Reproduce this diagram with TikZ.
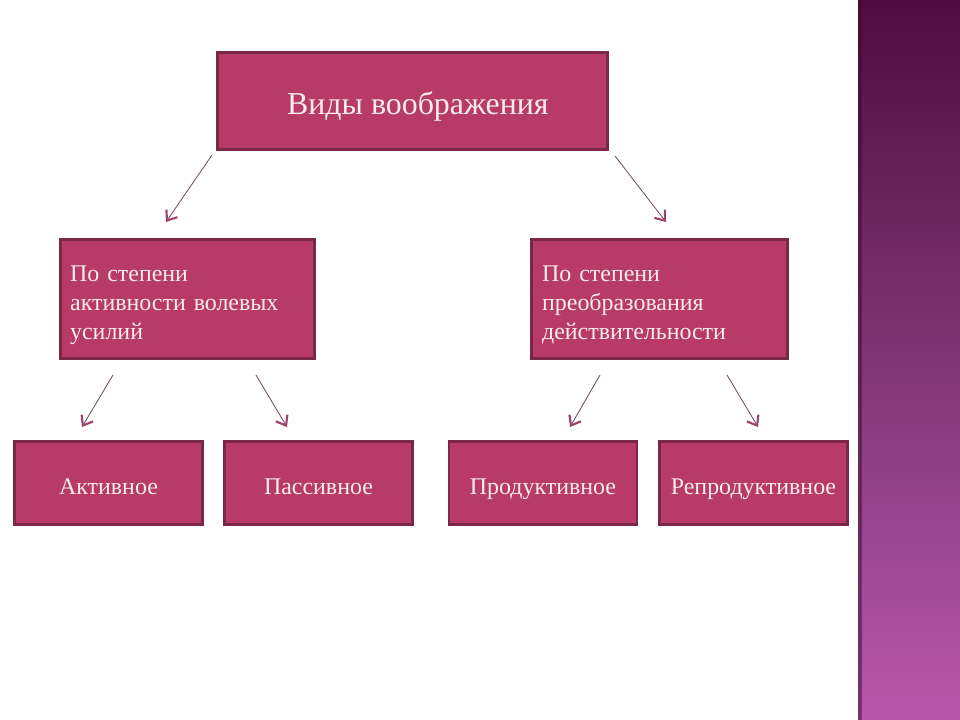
\documentclass[tikz,border=0pt]{standalone}
\usepackage{fontspec}
\setmainfont{Liberation Serif}
\usepackage{xcolor}
\usetikzlibrary{arrows.meta}

\definecolor{boxfill}{HTML}{B73B66}
\definecolor{boxline}{HTML}{7B2747}
\definecolor{boxtext}{HTML}{FBEAF0}
\definecolor{arline}{HTML}{6A4A5A}
\definecolor{arhead}{HTML}{A0406E}
\definecolor{striptop}{HTML}{4E0C40}
\definecolor{stripmid}{HTML}{7E3674}
\definecolor{stripbot}{HTML}{B857AC}

\newcommand{\textdown}[2]{\raisebox{-#1}[\height][\depth]{#2}}

\begin{document}
\begin{tikzpicture}[
      x=0.75bp, y=-0.75bp,
      box/.style={draw=boxline, line width=2.2bp, fill=boxfill, text=boxtext, inner sep=0pt},
      topbox/.style={box, minimum width=292.5bp, minimum height=72.75bp, font=\fontsize{24}{28}\selectfont},
      midbox/.style={box, minimum height=89.25bp, align=left, text width=176bp, font=\fontsize{18}{21.8}\selectfont},
      leafbox/.style={box, minimum width=141bp, minimum height=62.25bp, text height=17bp, text depth=0bp, font=\fontsize{18}{20}\selectfont},
      ar/.style={arline, line width=0.6bp, -{Straight Barb[length=6.5bp, width=10bp, line width=1.6bp, color=arhead]}}
    ]
    \useasboundingbox (0,0) rectangle (960,720);
    \fill[white] (0,0) rectangle (960,720);
    % side strip
    \shade[top color=striptop, bottom color=stripbot, middle color=stripmid] (858,0) rectangle (960,720);
    \fill[striptop!80!black, opacity=0.5] (858,0) rectangle (862,720);

    \node[topbox] (kinds) at (412.5,101) {\textdown{4bp}{\hspace*{8bp}Виды воображения}};
    \node[midbox, minimum width=190.5bp] (effort) at (187.5,299) {\textdown{4.5bp}{\parbox{176bp}{По степени\\активности волевых\\усилий}}};
    \node[midbox, minimum width=192bp] (transf) at (659.5,299) {\textdown{4.5bp}{\parbox{176bp}{По степени\\преобразования\\действительности}}};
    \node[leafbox] (active) at (108.5,483) {Активное};
    \node[leafbox] (passive) at (318.5,483) {Пассивное};
    \node[leafbox] (product) at (543,483) {Продуктивное};
    \node[leafbox] (reprod) at (753.5,483) {Репродуктивное};

    \coordinate (k1) at (212,155); \coordinate (e0) at (166,222);
    \coordinate (k2) at (615,156); \coordinate (t0) at (666,222);
    \coordinate (e1) at (113,375); \coordinate (a0) at (82,427);
    \coordinate (e2) at (256,375); \coordinate (p0) at (287,427);
    \coordinate (t1) at (600,375); \coordinate (r0) at (570,427);
    \coordinate (t2) at (727,375); \coordinate (s0) at (758,427);
    \draw[ar] (k1) -- (e0); \draw[ar] (k2) -- (t0);
    \draw[ar] (e1) -- (a0); \draw[ar] (e2) -- (p0);
    \draw[ar] (t1) -- (r0); \draw[ar] (t2) -- (s0);
  \end{tikzpicture}
\end{document}
